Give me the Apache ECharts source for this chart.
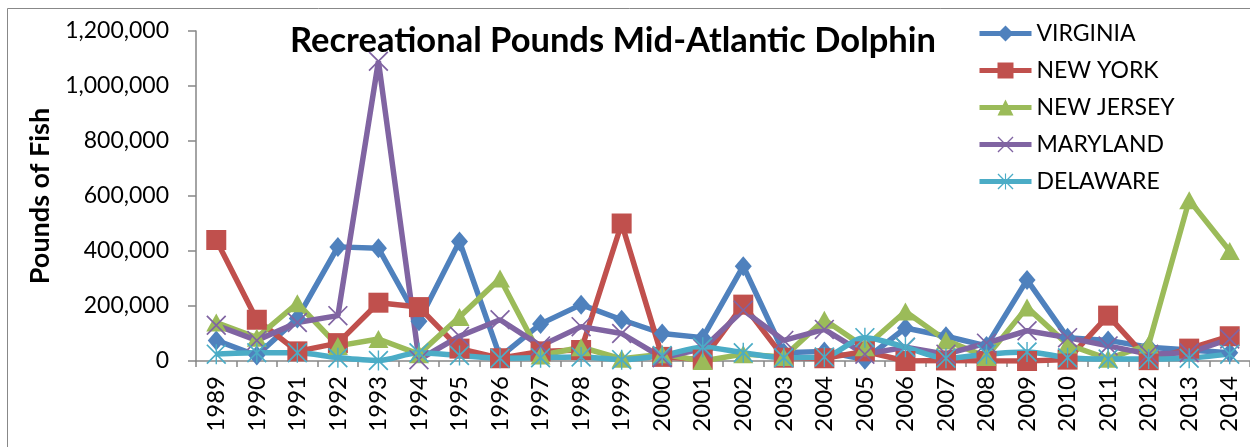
<!DOCTYPE html>
<html>
<head>
<meta charset="utf-8">
<script src="https://cdn.jsdelivr.net/npm/echarts@6/dist/echarts.min.js"></script>
<style>
  html, body { margin: 0; padding: 0; background: #fff; }
  #chart { width: 1250px; height: 447px; }
</style>
</head>
<body>
<div id="chart"></div>
<script>
// data
const years = ['1989', '1990', '1991', '1992', '1993', '1994', '1995', '1996', '1997', '1998', '1999', '2000', '2001',
    '2002', '2003', '2004', '2005', '2006', '2007', '2008', '2009', '2010', '2011', '2012', '2013', '2014'];
const virginia = [75000, 20000, 155000, 415000, 410000, 145000, 435000, 15000, 135000, 205000, 150000, 100000, 85000,
    345000, 30000, 35000, 5000, 120000, 90000, 55000, 295000, 85000, 75000, 50000, 40000, 30000];
const newYork = [440000, 150000, 35000, 65000, 212000, 196000, 45000, 10000, 35000, 40000, 500000, 15000, 5000,
    205000, 12000, 10000, 35000, 0, 2000, 0, 0, 5000, 165000, 3000, 45000, 90000];
const newJersey = [140000, 85000, 210000, 55000, 80000, 25000, 160000, 300000, 20000, 50000, 8000, 25000, 0,
    25000, 15000, 150000, 50000, 180000, 75000, 15000, 195000, 60000, 8000, 60000, 585000, 400000];
const maryland = [130000, 75000, 140000, 165000, 1090000, 5000, 90000, 150000, 55000, 125000, 100000, 12000, 45000,
    185000, 75000, 115000, 25000, 50000, 25000, 65000, 110000, 85000, 55000, 25000, 30000, 80000];
const delaware = [25000, 30000, 30000, 12000, 2000, 30000, 20000, 10000, 12000, 15000, 5000, 20000, 50000,
    30000, 12000, 15000, 85000, 50000, 10000, 25000, 33000, 12000, 7000, 7000, 10000, 25000];
const yTicks = [0, 200000, 400000, 600000, 800000, 1000000, 1200000];

const FONT = 'Lato';

// thin x and asterisk markers like Excel's
const xMark = 'path://M0,1.2L1.2,0L20,18.8L18.8,20Z M18.8,0L20,1.2L1.2,20L0,18.8Z';
const starMark = 'path://M0,1.2L1.2,0L20,18.8L18.8,20Z M18.8,0L20,1.2L1.2,20L0,18.8Z M9.3,0L10.7,0L10.7,20L9.3,20Z';

const chart = echarts.init(document.getElementById('chart'));

const makeSeries = (name, values, color, symbol, size, smooth) => ({
    name: name,
    type: 'line',
    data: values,
    symbol: symbol,
    symbolSize: size,
    showAllSymbol: true,
    smooth: smooth,
    lineStyle: { color: color, width: 5.5 },
    itemStyle: { color: color },
    emphasis: { disabled: true },
    animation: false
});

const option = {
    backgroundColor: '#fff',
    title: {
        text: 'Recreational Pounds Mid-Atlantic Dolphin',
        left: 608,
        textAlign: 'center',
        top: 18,
        textStyle: { fontFamily: FONT, fontSize: 34.5, fontWeight: 'bold', color: '#000' }
    },
    legend: {
        orient: 'vertical',
        left: 977,
        top: 22,
        padding: 0,
        itemWidth: 52,
        itemHeight: 20,
        itemGap: 14,
        lineStyle: { width: 5 },
        textStyle: { fontFamily: FONT, fontSize: 23, color: '#000' },
        data: ['VIRGINIA', 'NEW YORK', 'NEW JERSEY', 'MARYLAND', 'DELAWARE']
    },
    grid: { left: 196, top: 31, width: 1056, height: 330, containLabel: false },
    xAxis: {
        type: 'category',
        data: years,
        boundaryGap: true,
        axisLine: { lineStyle: { color: '#868686', width: 1.5 } },
        axisTick: { show: true, interval: 0, length: 6, lineStyle: { color: '#868686', width: 1.5 } },
        axisLabel: {
            interval: 0,
            rotate: 90,
            margin: 15,
            fontFamily: FONT,
            fontSize: 24,
            color: '#000'
        }
    },
    yAxis: {
        type: 'value',
        min: yTicks[0],
        max: yTicks[yTicks.length - 1],
        interval: 200000,
        name: 'Pounds of Fish',
        nameLocation: 'middle',
        nameGap: 134,
        nameTextStyle: { fontFamily: FONT, fontSize: 27, fontWeight: 'bold', color: '#000' },
        splitLine: { show: false },
        axisLine: { show: true, lineStyle: { color: '#868686', width: 1.5 } },
        axisTick: { show: true, length: 8, lineStyle: { color: '#868686', width: 1.5 } },
        axisLabel: {
            margin: 27,
            fontFamily: FONT,
            fontSize: 23,
            color: '#000',
            formatter: v => v.toLocaleString('en-US')
        }
    },
    graphic: [{
        type: 'rect',
        shape: { x: 7.5, y: 8.5, width: 1260, height: 460 },
        style: { fill: 'none', stroke: '#888', lineWidth: 1 },
        silent: true
    }],
    series: [
        makeSeries('VIRGINIA', virginia, '#4F81BD', 'diamond', [17, 20], false),
        makeSeries('NEW YORK', newYork, '#C0504D', 'rect', 20, false),
        makeSeries('NEW JERSEY', newJersey, '#9BBB59', 'triangle', [20, 18], false),
        makeSeries('MARYLAND', maryland, '#8064A2', xMark, 20, false),
        makeSeries('DELAWARE', delaware, '#4BACC6', starMark, 20, 0.3)
    ]
};

chart.setOption(option);
</script>
</body>
</html>
